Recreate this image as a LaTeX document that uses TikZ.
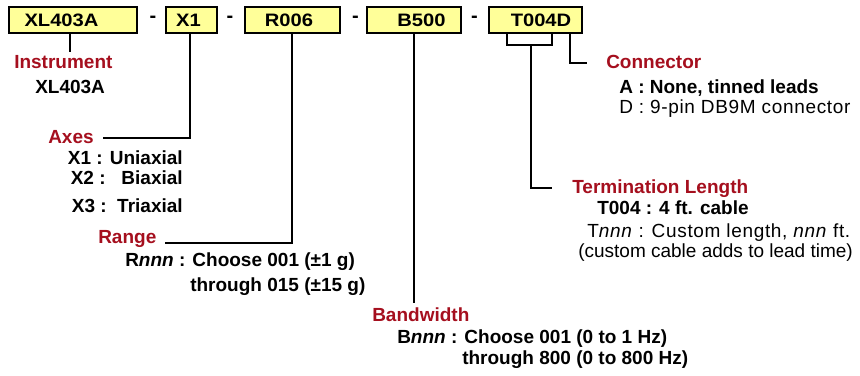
\documentclass[tikz,border=0pt]{standalone}
\usepackage{fontspec}
\setmainfont{Liberation Sans}
\newfontfamily\boxfont[FakeStretch=1.12]{Liberation Sans}
\newfontfamily\spacedfont[LetterSpace=3.5]{Liberation Sans}
\definecolor{lblred}{RGB}{165,15,30}
\definecolor{boxyellow}{RGB}{255,255,153}
\newcommand\gapbox[1]{\makebox[#1]{}}
\begin{document}
\begin{tikzpicture}[x=0.75pt,y=-0.75pt,
  codebox/.style={draw=black,line width=1.1pt,fill=boxyellow,minimum height=19.5pt,inner sep=0pt,
    font=\boxfont\bfseries\fontsize{13.5}{16}\selectfont},
  lbl/.style={anchor=base west,inner sep=0pt,text=lblred,font=\bfseries\fontsize{14.25}{17}\selectfont},
  bod/.style={anchor=base west,inner sep=0pt,font=\bfseries\fontsize{14.25}{17}\selectfont},
  bodr/.style={anchor=base east,inner sep=0pt,font=\bfseries\fontsize{14.25}{17}\selectfont},
  bodreg/.style={anchor=base west,inner sep=0pt,font=\fontsize{14.25}{17}\selectfont},
  bodsp/.style={anchor=base west,inner sep=0pt,font=\spacedfont\fontsize{14.25}{17}\selectfont},
  conn/.style={line width=1.5pt,line join=miter},
  dashmark/.style={anchor=base,inner sep=0pt,font=\bfseries\fontsize{15}{17}\selectfont}
]
\useasboundingbox (0,0) rectangle (860,375);

% code boxes
\node[codebox,minimum width=96pt]    (xl)  at (73,20)    {XL403A\gapbox{17.25pt}};
\node[codebox,minimum width=38.25pt] (x1)  at (191.5,20) {X1\gapbox{4.5pt}};
\node[codebox,minimum width=71.25pt] (r)   at (292.5,20) {R006\gapbox{5.25pt}};
\node[codebox,minimum width=70.5pt]  (b)   at (414,20)   {\gapbox{11.25pt}B500};
\node[codebox,minimum width=69.75pt] (t)   at (535.5,20) {\gapbox{8.25pt}T004D};

% dashes
\node[dashmark] (d1) at (153,22)   {-};
\node[dashmark] (d2) at (230,22)   {-};
\node[dashmark] (d3) at (355.5,22) {-};
\node[dashmark] (d4) at (474.5,22) {-};

% Instrument
\node[lbl] (inst) at (14,68) {Instrument};
\node[bod] (instv) at (35,93) {XL403A};
\coordinate (instEnd) at (70,52);
\draw[conn] (xl.south -| instEnd) -- (instEnd);

% Axes
\node[lbl] (axes) at (48,143) {Axes};
\node[bodr] (ax1) at (183,164) {X1 : Uniaxial};
\node[bodr] (ax2) at (183,184) {X2 :\ \ \ Biaxial};
\node[bodr] (ax3) at (183,212) {X3 :\ \ Triaxial};
\coordinate (axesCorner) at (190,138);
\coordinate (axesEnd) at (103,138);
\draw[conn] (x1.south -| axesCorner) -- (axesCorner) -- (axesEnd);

% Range
\node[lbl] (range) at (98,243) {Range};
\node[bod] (rg1) at (125,266) {R\textit{nnn} : Choose 001 (±1 g)};
\node[bod] (rg2) at (190,291) {through 015 (±15 g)};
\coordinate (rangeCorner) at (292,243);
\coordinate (rangeEnd) at (165,243);
\draw[conn] (r.south -| rangeCorner) -- (rangeCorner) -- (rangeEnd);

% Bandwidth
\node[lbl] (bw) at (372,321) {Bandwidth};
\node[bod] (bw1) at (397,343) {B\textit{nnn} : Choose 001 (0 to 1 Hz)};
\node[bod] (bw2) at (462,364) {through 800 (0 to 800 Hz)};
\coordinate (bwEnd) at (414,303);
\draw[conn] (b.south -| bwEnd) -- (bwEnd);

% Connector
\node[lbl] (con) at (606,68) {Connector};
\node[bod] (con1) at (619,93) {A : None, tinned leads};
\node[bodsp] (con2) at (619,113) {D : 9-pin DB9M connector};
\coordinate (conCorner) at (570,63);
\coordinate (conEnd) at (587,63);
\draw[conn] (t.south -| conCorner) -- (conCorner) -- (conEnd);

% Termination Length
\node[lbl] (term) at (572,193) {Termination Length};
\node[bod] (term1) at (597,214) {T004 : 4 ft. cable};
\node[bodsp] (term2) at (587,237) {T\textit{nnn} : Custom length, \textit{nnn} ft.};
\node[bodreg] (term3) at (578,257) {(custom cable adds to lead time)};
\coordinate (brL) at (507,45);
\coordinate (brR) at (552,45);
\coordinate (brM) at (531,45);
\coordinate (termCorner) at (531,188);
\coordinate (termEnd) at (552,188);
\draw[conn] (t.south -| brL) -- (brL) -- (brR) -- (t.south -| brR);
\draw[conn] (brM) -- (termCorner) -- (termEnd);
\end{tikzpicture}
\end{document}
